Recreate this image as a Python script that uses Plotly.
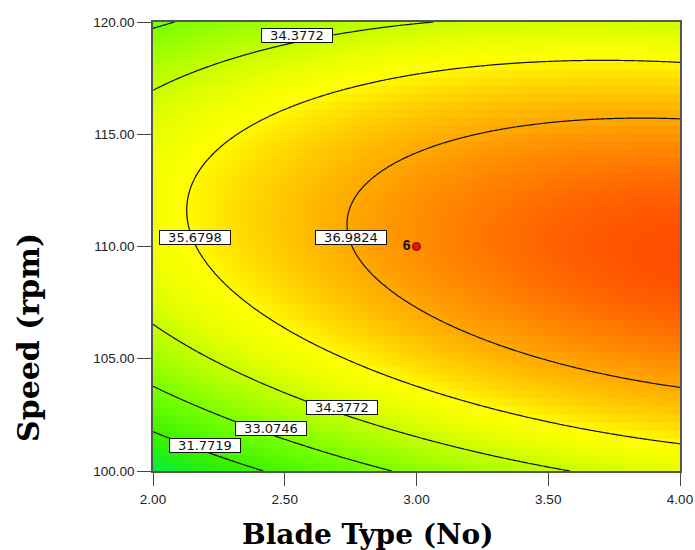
import numpy as np
import plotly.graph_objects as go

# ---- data ----
# fitted quadratic response-surface model in coded factors
# A = (Blade Type - 3) / 1,  B = (Speed - 110) / 10
coef_names = ["Intercept", "A", "B", "AB", "A^2", "B^2"]
coef_values = [37.39, 1.51, 0.52, -0.73, -0.64, -3.58]

blade_range = [2.0, 4.0]
speed_range = [100.0, 120.0]

contour_levels = [31.7719, 33.0746, 34.3772, 35.6798, 36.9824]

x_tick_vals = [2.0, 2.5, 3.0, 3.5, 4.0]
x_tick_text = ["2.00", "2.50", "3.00", "3.50", "4.00"]
y_tick_vals = [100, 105, 110, 115, 120]
y_tick_text = ["100.00", "105.00", "110.00", "115.00", "120.00"]

design_x = [3.0]
design_y = [110.0]
design_text = ["6"]

# contour labels: level, which coordinate is fixed, its value, branch
label_levels = [34.3772, 35.6798, 36.9824, 34.3772, 33.0746, 31.7719]
label_fixed = ["x", "y", "y", "x", "x", "x"]
label_value = [2.546, 110.15, 110.15, 2.717, 2.448, 2.197]
label_branch = ["high", "low", "low", "low", "low", "low"]

x_title = "Blade Type (No)"
y_title = "Speed (rpm)"

# ---- model helpers ----
c0, c1, c2, c3, c4, c5 = coef_values


def response(x, y):
    A = (x - 3.0) / 1.0
    B = (y - 110.0) / 10.0
    return c0 + c1 * A + c2 * B + c3 * A * B + c4 * A * A + c5 * B * B


def solve_point(level, fixed, value, branch):
    if fixed == "x":
        A = (value - 3.0)
        a, b, c = c5, c2 + c3 * A, c0 + c1 * A + c4 * A * A - level
    else:
        B = (value - 110.0) / 10.0
        a, b, c = c4, c1 + c3 * B, c0 + c2 * B + c5 * B * B - level
    d = np.sqrt(b * b - 4 * a * c)
    roots = sorted([(-b + d) / (2 * a), (-b - d) / (2 * a)])
    r = roots[1] if branch == "high" else roots[0]
    if fixed == "x":
        return value, 110.0 + 10.0 * r
    return 3.0 + r, value


# coarse colour grid (blocky look like the original) and fine grid for lines
nx, ny = 66, 56
hx = (blade_range[1] - blade_range[0]) / nx
hy = (speed_range[1] - speed_range[0]) / ny
gx = blade_range[0] + hx * (np.arange(nx) + 0.5)
gy = speed_range[0] + hy * (np.arange(ny) + 0.5)
GX, GY = np.meshgrid(gx, gy)
GZ = response(GX, GY)

fx = np.linspace(blade_range[0], blade_range[1], 241)
fy = np.linspace(speed_range[0], speed_range[1], 241)
FX, FY = np.meshgrid(fx, fy)
FZ = response(FX, FY)

zmin, zmax = 30.4, 38.3
stops = [(30.4, "#00ee40"), (31.5, "#33f000"), (32.9, "#70ff00"),
         (34.0, "#b0ff00"), (35.0, "#e8ff00"), (35.6, "#ffff00"),
         (36.3, "#ffd200"), (37.0, "#ffa800"), (37.7, "#ff7a00"),
         (38.3, "#ff4a00")]
colorscale = [[(v - zmin) / (zmax - zmin), col] for v, col in stops]

fig = go.Figure()
fig.add_trace(go.Heatmap(
    x=gx, y=gy, z=GZ, colorscale=colorscale, zmin=zmin, zmax=zmax,
    showscale=False, hoverinfo="skip", zsmooth=False))

step = contour_levels[1] - contour_levels[0]
fig.add_trace(go.Contour(
    x=fx, y=fy, z=FZ, showscale=False, hoverinfo="skip",
    contours=dict(coloring="none", start=contour_levels[0],
                  end=contour_levels[-1] + step * 0.3, size=step,
                  showlabels=False),
    line=dict(color="#111111", width=1.2)))

fig.add_trace(go.Scatter(
    x=design_x, y=design_y, mode="markers+text", text=design_text,
    textposition="middle left",
    textfont=dict(family="Liberation Sans", size=14, color="#111111",
                  weight="bold"),
    marker=dict(color="#ee1111", size=8, line=dict(color="#551111", width=1)),
    hoverinfo="skip", showlegend=False))

for lev, fxd, val, br in zip(label_levels, label_fixed, label_value, label_branch):
    px, py = solve_point(lev, fxd, val, br)
    fig.add_annotation(
        x=px, y=py, text=f"{lev:.4f}", showarrow=False, yshift=6,
        width=70, height=13, align="center", valign="middle",
        font=dict(family="DejaVu Sans", size=13, color="#111111"),
        bgcolor="white", bordercolor="#111111", borderwidth=1, borderpad=0)

fig.add_annotation(
    x=368, y=534, xref="paper", yref="paper", text=x_title, showarrow=False,
    xanchor="center", yanchor="middle",
    font=dict(family="DejaVu Serif", size=28, color="black", weight="bold"))
fig.add_annotation(
    x=29, y=338, xref="paper", yref="paper", text=y_title, showarrow=False,
    textangle=-90, xanchor="center", yanchor="middle",
    font=dict(family="DejaVu Serif", size=30, color="black", weight="bold"))

# convert the pixel-placed titles into paper coordinates
L, R, T, B = 153, 15, 22, 79
W, H = 695, 550
pw, ph = W - L - R, H - T - B
for ann in fig.layout.annotations[-2:]:
    ann.x = (ann.x - L) / pw
    ann.y = (H - B - ann.y) / ph

axis_font = dict(family="Liberation Sans", size=13.5, color="#222222")
fig.update_xaxes(range=blade_range, tickvals=x_tick_vals, ticktext=x_tick_text,
                 ticks="outside", ticklen=13, tickcolor="#444444",
                 ticklabelstandoff=2, automargin=False,
                 showline=True, linecolor="#555555", linewidth=1.5, mirror=True,
                 showgrid=False, zeroline=False, tickfont=axis_font)
fig.update_yaxes(range=speed_range, tickvals=y_tick_vals, ticktext=y_tick_text,
                 ticks="outside", ticklen=14, tickcolor="#444444",
                 automargin=False,
                 showline=True, linecolor="#555555", linewidth=1.5, mirror=True,
                 showgrid=False, zeroline=False, tickfont=axis_font)

fig.update_layout(
    width=W, height=H, margin=dict(l=L, r=R, t=T, b=B),
    paper_bgcolor="white", plot_bgcolor="white", showlegend=False)

fig.write_html("out.html", config={"displayModeBar": False},
               post_script="document.body.style.margin='0';"
                           "document.body.style.overflow='hidden';")
